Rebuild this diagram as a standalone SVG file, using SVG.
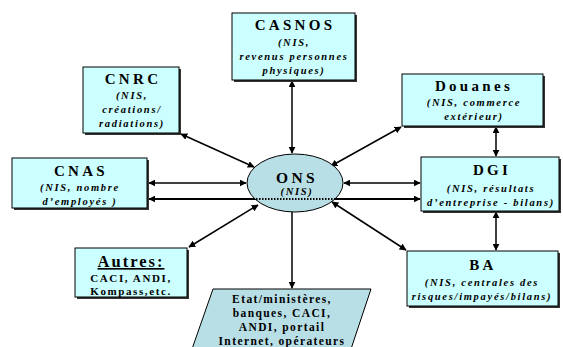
<svg xmlns="http://www.w3.org/2000/svg" width="563" height="347" viewBox="0 0 563 347">
<defs>
<marker id="ah" viewBox="0 0 10 10" refX="9" refY="5" markerWidth="7" markerHeight="7" markerUnits="userSpaceOnUse" orient="auto-start-reverse">
<path d="M0,0 L10,5 L0,10 z" fill="#000"/>
</marker>
</defs>
<style>
.box{fill:#ccffff;stroke:#000;stroke-width:1}
.sh{fill:#333}
.t{font-family:"Liberation Serif","Times New Roman",serif;font-weight:bold;font-size:15px;letter-spacing:3.3px;text-anchor:middle;fill:#000}
.s{font-family:"Liberation Serif","Times New Roman",serif;font-weight:bold;font-style:italic;font-size:10.5px;letter-spacing:1.7px;text-anchor:middle;fill:#000}
.n{font-family:"Liberation Serif","Times New Roman",serif;font-weight:bold;font-size:10.5px;letter-spacing:1.6px;text-anchor:middle;fill:#000}
.c{stroke:#000;stroke-width:1.5;fill:none;marker-start:url(#ah);marker-end:url(#ah)}
</style>
<rect width="563" height="347" fill="#fff"/>
<g id="connectors">
<line class="c" x1="292" y1="81" x2="292" y2="153"/>
<line class="c" x1="181" y1="134" x2="254" y2="167"/>
<line class="c" x1="401" y1="127" x2="331" y2="166"/>
<line class="c" x1="149" y1="183" x2="246" y2="183"/>
<line class="c" x1="344" y1="183" x2="420" y2="183"/>
<line class="c" x1="189" y1="247" x2="258" y2="205"/>
<line class="c" x1="406" y1="250" x2="332" y2="202"/>
<line stroke="#000" stroke-width="1.5" x1="292" y1="212" x2="292" y2="288" marker-end="url(#ah)"/>
<line class="c" x1="496" y1="127" x2="496" y2="156"/>
<line class="c" x1="496" y1="212" x2="496" y2="250"/>
<line stroke="#000" stroke-width="2.2" x1="149" y1="199" x2="420" y2="199" marker-start="url(#ah)" marker-end="url(#ah)"/>
</g>
<g id="ONS">
<ellipse cx="295" cy="183" rx="48" ry="29" fill="#b9dfe6" stroke="#000" stroke-width="1"/>
<line x1="256" y1="199" x2="335" y2="199" stroke="#000" stroke-width="2" stroke-dasharray="1.5,1.5"/>
<text class="t" x="297" y="183" style="font-size:15.5px">ONS</text>
<text class="s" x="297" y="195">(NIS)</text>
</g>
<g id="CASNOS">
<rect class="sh" x="234" y="15" width="123" height="67"/>
<rect class="box" x="232" y="13" width="123" height="67"/>
<text class="t" x="295" y="30">CASNOS</text>
<text class="s" x="294" y="46">(NIS,</text>
<text class="s" x="294" y="60">revenus personnes</text>
<text class="s" x="294" y="74">physiques)</text>
</g>
<g id="CNRC">
<rect class="sh" x="85" y="69" width="96" height="66"/>
<rect class="box" x="83" y="67" width="96" height="66"/>
<text class="t" x="133" y="84">CNRC</text>
<text class="s" x="132" y="99">(NIS,</text>
<text class="s" x="132" y="113">créations/</text>
<text class="s" x="132" y="127">radiations)</text>
</g>
<g id="Douanes">
<rect class="sh" x="404" y="76" width="141" height="52"/>
<rect class="box" x="402" y="74" width="141" height="52"/>
<text class="t" x="474" y="91">Douanes</text>
<text class="s" x="474" y="106">(NIS, commerce</text>
<text class="s" x="474" y="120">extérieur)</text>
</g>
<g id="CNAS">
<rect class="sh" x="14" y="160" width="135" height="50"/>
<rect class="box" x="12" y="158" width="135" height="50"/>
<text class="t" x="81" y="176">CNAS</text>
<text class="s" x="80" y="191">(NIS, nombre</text>
<text class="s" x="80" y="205">d’employés )</text>
</g>
<g id="DGI">
<rect class="sh" x="423" y="159" width="138" height="54"/>
<rect class="box" x="421" y="157" width="138" height="54"/>
<text class="t" x="492" y="175">DGI</text>
<text class="s" x="491" y="192">(NIS, résultats</text>
<text class="s" x="491" y="206">d’entreprise - bilans)</text>
</g>
<g id="Autres">
<rect class="sh" x="77" y="250" width="112" height="49"/>
<rect class="box" x="75" y="248" width="112" height="49"/>
<text class="t" x="131" y="267" text-decoration="underline" style="font-size:16.5px;letter-spacing:2px">Autres:</text>
<text class="n" x="131" y="282" style="font-size:11px">CACI, ANDI,</text>
<text class="n" x="131" y="295" style="font-size:11px">Kompass,etc.</text>
</g>
<g id="BA">
<rect class="sh" x="409" y="253" width="151" height="55"/>
<rect class="box" x="407" y="251" width="151" height="55"/>
<text class="t" x="483" y="270">BA</text>
<text class="s" x="482" y="286">(NIS, centrales des</text>
<text class="s" x="482" y="300">risques/impayés/bilans)</text>
</g>
<g id="Etat">
<polygon points="213,289 371,289 351,349 192,349" fill="#b9dfe6" stroke="#000" stroke-width="1"/>
<text class="n" x="282" y="303" style="font-size:11.5px;letter-spacing:1.4px">Etat/ministères,</text>
<text class="n" x="282" y="317" style="font-size:11.5px;letter-spacing:1.4px">banques, CACI,</text>
<text class="n" x="282" y="331" style="font-size:11.5px;letter-spacing:1.4px">ANDI, portail</text>
<text class="n" x="282" y="345" style="font-size:11.5px;letter-spacing:1.4px">Internet, opérateurs</text>
</g>
</svg>
